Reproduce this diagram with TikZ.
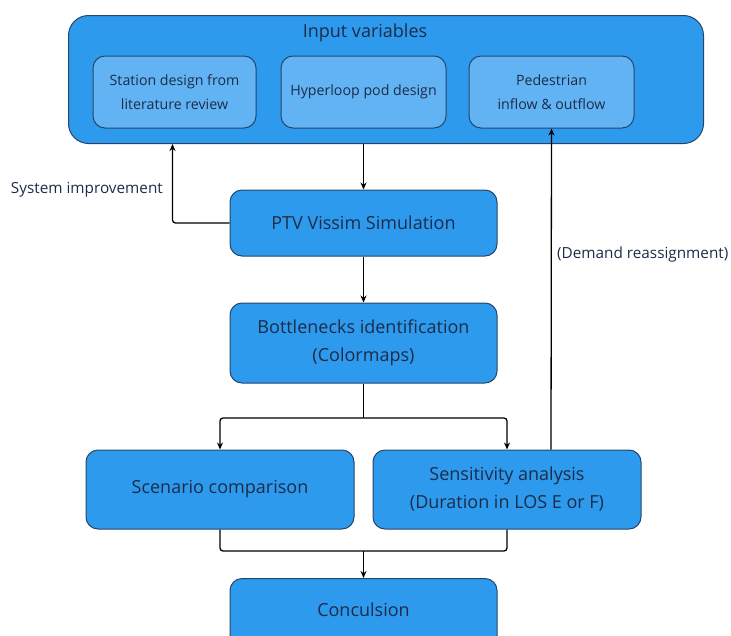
\documentclass[tikz,border=0pt]{standalone}
\usepackage{fontspec}
\setmainfont{Open Sans}
\usetikzlibrary{arrows.meta}
\definecolor{boxblue}{HTML}{2D9AEE}
\definecolor{innerblue}{HTML}{62B3F3}
\definecolor{edgecol}{HTML}{25466A}
\definecolor{txtcol}{HTML}{1C2C48}
\begin{document}
\begin{tikzpicture}[x=1pt,y=-1pt,
  box/.style={draw=edgecol, line width=1pt, fill=boxblue, rounded corners=12pt, text=txtcol, align=center, inner sep=0pt, font=\fontsize{18}{28}\selectfont},
  inbox/.style={box, fill=innerblue, font=\fontsize{14.2}{24}\selectfont},
  conn/.style={line width=1.3pt, black, rounded corners=3pt},
  arr/.style={conn, -{Stealth[length=7pt,width=6pt]}},
  lbl/.style={text=txtcol, font=\fontsize{15.3}{18}\selectfont, inner sep=0pt}]
\useasboundingbox (0,0) rectangle (731,635);
% outer input box
\node[box, rounded corners=20pt, minimum width=635pt, minimum height=128pt, anchor=north west] (inp) at (68,15) {};
\node[lbl, font=\fontsize{18}{22}\selectfont] (inptitle) at (365,33) {Input variables};
\node[inbox, minimum width=163pt, minimum height=72pt] (station) at (174.5,92) {Station design from\\literature review};
\node[inbox, minimum width=165pt, minimum height=72pt] (pod) at (363.5,92) {Hyperloop pod design};
\node[inbox, minimum width=165pt, minimum height=72pt] (ped) at (551.5,92) {Pedestrian\\inflow \& outflow};
% main boxes
\node[box, minimum width=267pt, minimum height=66pt] (ptv) at (363.5,223) {PTV Vissim Simulation};
\node[box, minimum width=267pt, minimum height=80pt] (bott) at (363.5,343) {Bottlenecks identification\\(Colormaps)};
\node[box, minimum width=268pt, minimum height=79pt] (scen) at (220,489.5) {Scenario comparison};
\node[box, minimum width=268pt, minimum height=79pt] (sens) at (507,489.5) {Sensitivity analysis\\(Duration in LOS E or F)};
\node[box, minimum width=267pt, minimum height=80pt, anchor=north] (conc) at (363.5,578) {};
\node[text=txtcol, font=\fontsize{18}{22}\selectfont, inner sep=0pt] (conct) at (363.5,610) {Conculsion};
% labels
\node[lbl, anchor=east] (sysimp) at (163,190) {System improvement};
\node[lbl, anchor=west] (demand) at (557,255) {(Demand reassignment)};
% connectors
\coordinate (split) at (363.5,418);
\coordinate (join) at (363.5,551);
\draw[arr] (inp.south -| pod) -- (ptv.north);
\draw[arr] (ptv.south) -- (bott.north);
\draw[arr] (ptv.west) -| ([xshift=-2pt]inp.south -| station);
\draw[arr] (sens.north -| 551,0) -- (ped.south);
\draw[conn] (bott.south) -- (split);
\draw[arr] (split) -| (scen.north);
\draw[arr] (split) -| (sens.north);
\draw[conn] (scen.south) |- (join);
\draw[conn] (sens.south) |- (join);
\draw[arr] (join) -- (conc.north);
\end{tikzpicture}
\end{document}
